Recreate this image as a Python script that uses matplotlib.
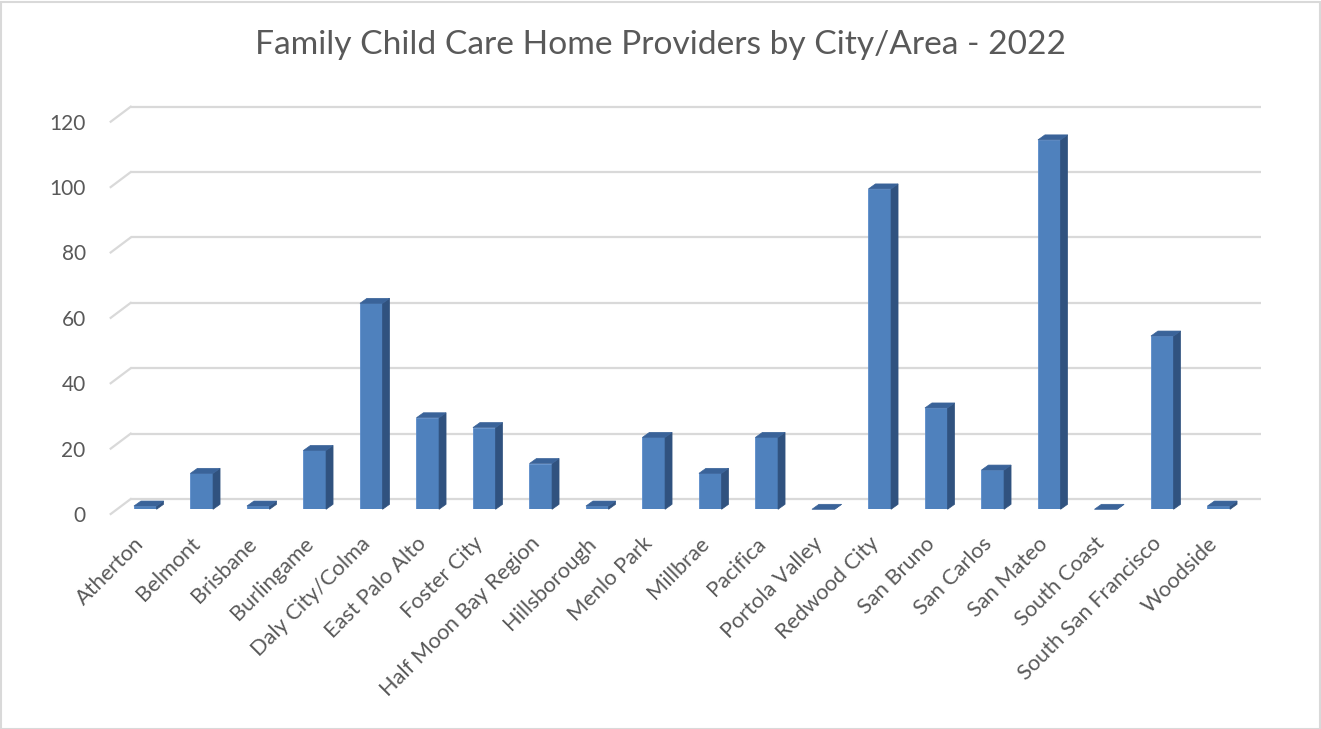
import matplotlib
matplotlib.use("Agg")
import matplotlib.pyplot as plt
from matplotlib.patches import Polygon, Rectangle
from matplotlib.transforms import ScaledTranslation

cities = ["Atherton", "Belmont", "Brisbane", "Burlingame", "Daly City/Colma",
          "East Palo Alto", "Foster City", "Half Moon Bay Region", "Hillsborough",
          "Menlo Park", "Millbrae", "Pacifica", "Portola Valley", "Redwood City",
          "San Bruno", "San Carlos", "San Mateo", "South Coast",
          "South San Francisco", "Woodside"]
providers = [1, 11, 1, 18, 63, 28, 25, 14, 1, 22, 11, 22, 0, 98, 31, 12, 113, 0, 53, 1]
y_ticks = [0, 20, 40, 60, 80, 100, 120]

TEXT = "#595959"
GRID = "#d9d9d9"
FRONT = "#4f81bd"
SIDE = "#30527f"
TOP = "#3a6399"
FONT = "Lato"

DPI = 100
W, H = 1321, 729

# pixel offsets of the depth planes relative to the bar front faces
BACK = (13.7, 10.3)
FLOOR = (-6.3, -4.7)
DEPTH = (7.0, 5.0)

fig = plt.figure(figsize=(W / DPI, H / DPI), dpi=DPI)
fig.patch.set_facecolor("white")
fig.add_artist(Rectangle((0.5 / W, 0.5 / H), 1 - 2 / W, 1 - 2 / H,
                         transform=fig.transFigure, fill=False,
                         edgecolor=GRID, linewidth=1.5))

ax = fig.add_axes([117 / W, (H - 509.3) / H, 1130 / W, 392.3 / H])
ax.set_xlim(-0.5, len(cities) - 0.5)
ax.set_ylim(0, 120)
for s in ax.spines.values():
    s.set_visible(False)
ax.patch.set_visible(False)

# pixels -> data units along each axis
px_x = 1130 / len(cities)
px_y = 392.3 / 120


def off(p):
    return p[0] / px_x, p[1] / px_y


bx, by = off(BACK)
fx, fy = off(FLOOR)
dx, dy = off(DEPTH)
x0, x1 = ax.get_xlim()

# back wall gridlines and their left-wall floor runs
for v in y_ticks:
    ax.plot([x0 + bx, x1 + bx], [v + by, v + by], color=GRID, lw=1.6,
            zorder=1, clip_on=False, solid_capstyle="butt")
    ax.plot([x0 + fx, x0 + bx], [v + fy, v + by], color=GRID, lw=1.6,
            zorder=1, clip_on=False)

width = 0.4
xs = list(range(len(cities)))
bars = ax.bar(xs, providers, width=width, color=FRONT, zorder=3,
              edgecolor="#5b8ccb", linewidth=0.6)
for bar, v in zip(bars, providers):
    left = bar.get_x()
    right = left + bar.get_width()
    top = bar.get_height()
    ax.add_patch(Polygon([(right, 0), (right + dx, dy), (right + dx, top + dy),
                          (right, top)], closed=True, facecolor=SIDE,
                         edgecolor=SIDE, lw=0.5, zorder=3, clip_on=False))
    ax.add_patch(Polygon([(left, top), (right, top), (right + dx, top + dy),
                          (left + dx, top + dy)], closed=True, facecolor=TOP,
                         edgecolor=TOP, lw=0.5, zorder=3, clip_on=False))

ax.set_yticks(y_ticks)
ax.set_yticklabels([str(t) for t in y_ticks], fontsize=15, color=TEXT,
                   family=FONT)
ax.tick_params(axis="y", length=0, pad=18)
ax.set_xticks(xs)
ax.set_xticklabels(cities, rotation=45, ha="right", rotation_mode="anchor",
                   fontsize=15.7, color=TEXT, family=FONT)
ax.tick_params(axis="x", length=0, pad=14)

yshift = ScaledTranslation(FLOOR[0] / DPI, FLOOR[1] / DPI, fig.dpi_scale_trans)
xshift = ScaledTranslation((FLOOR[0] - 5) / DPI, FLOOR[1] / DPI, fig.dpi_scale_trans)
for lab in ax.get_yticklabels():
    lab.set_transform(lab.get_transform() + yshift)
for lab in ax.get_xticklabels():
    lab.set_transform(lab.get_transform() + xshift)

fig.text(0.5, 1 - 45 / H, "Family Child Care Home Providers by City/Area - 2022",
         ha="center", va="center", fontsize=24.1, color=TEXT, family=FONT)

fig.savefig("out.png", dpi=DPI, facecolor="white")
